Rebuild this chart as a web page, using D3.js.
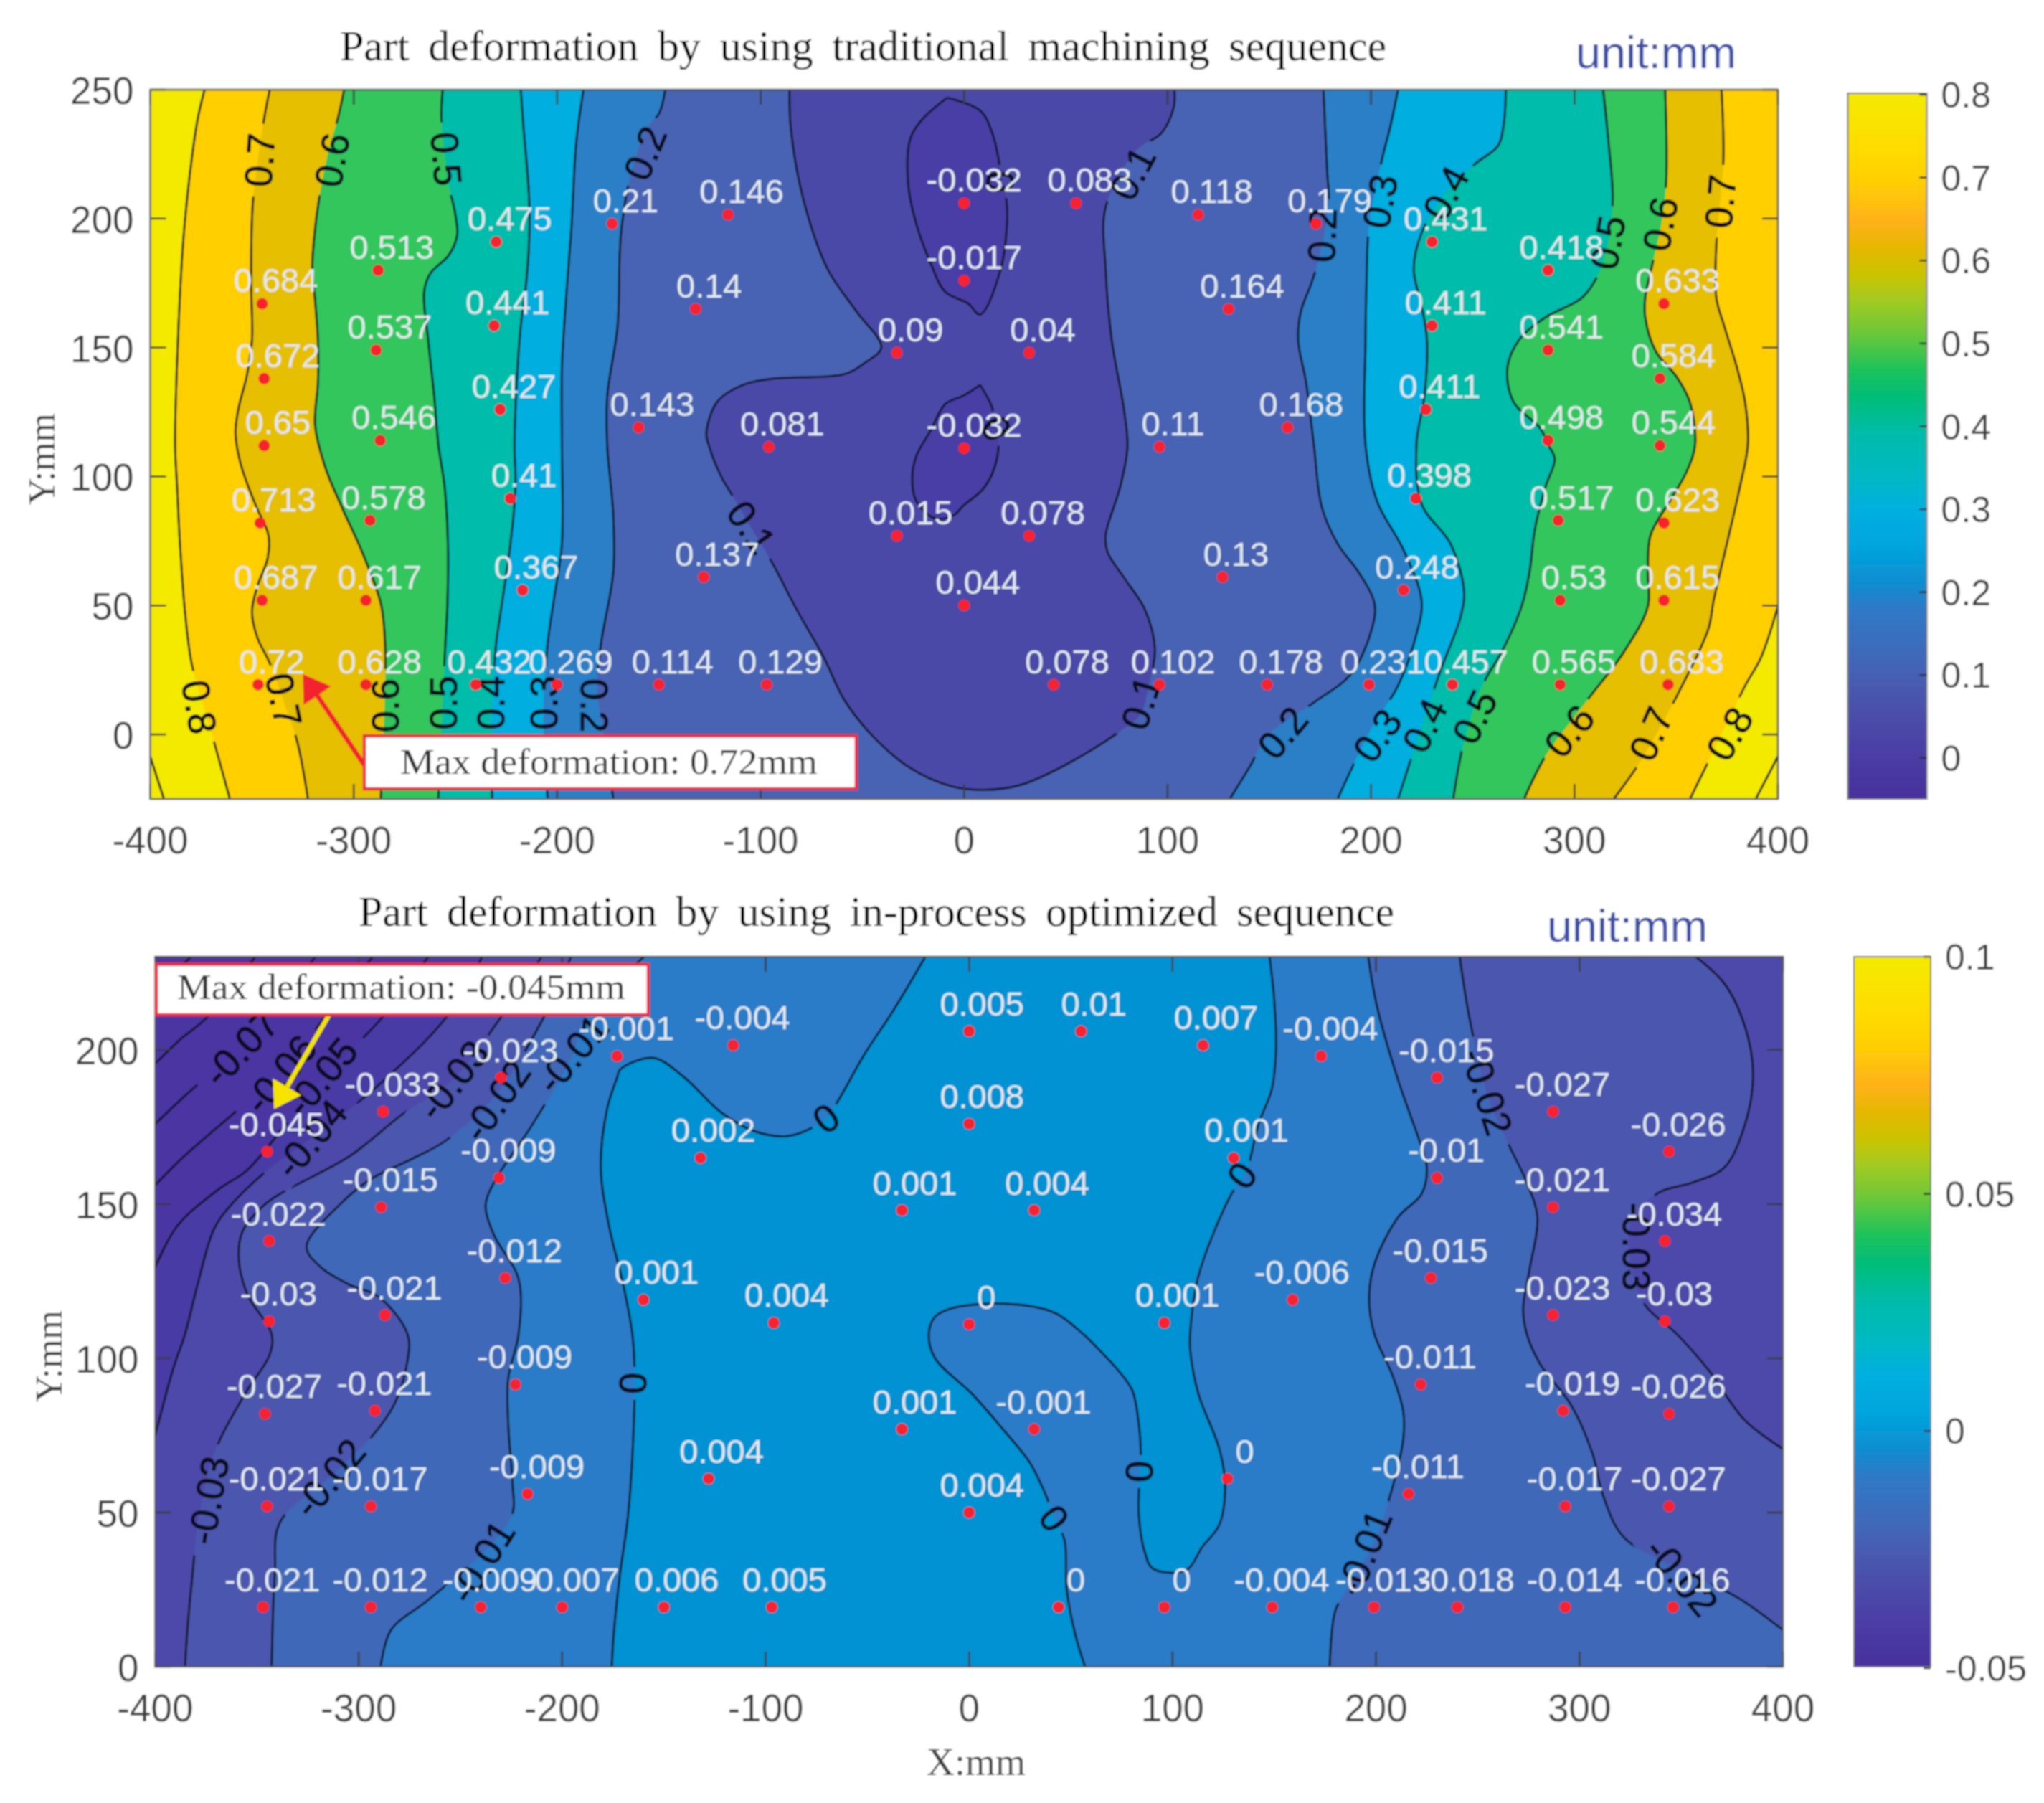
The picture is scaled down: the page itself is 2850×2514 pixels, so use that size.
<!DOCTYPE html>
<html><head><meta charset="utf-8"><style>html,body{margin:0;padding:0;background:#fff}svg{display:block}</style>
<script src="https://cdn.jsdelivr.net/npm/d3@7"></script></head><body><script>
// ---- measuring points (shared by both panels), mm
const pointX=[0,55,115,-116,-173,173,-230,230,-288,287,-345,344,0,-132,130,-231,230,-289,287,-33,32,-344,342,-228,227,-160,159,-344,-287,-96,0,96,287,342,-223,222,-346,-292,-33,32,292,344,-128,127,-217,216,0,-345,-294,293,344,-347,-294,-240,-200,-150,-97,44,96,149,199,240,293,346];
const pointY=[206,206,201.5,201.5,198,198,191,191,180,180,167,167,176,165,165,158.5,158.5,149,149,148,148,138,138,126,126,119,119,112,114,111.5,111,111.5,114,112,91.5,91.5,82,83,77,77,83,82,61,61,56,56,50,52,52,52,52,19.3,19.3,19.3,19.3,19.3,19.3,19.3,19.3,19.3,19.3,19.3,19.3,19.3];
const topValues=["-0.032","0.083","0.118","0.146","0.21","0.179","0.475","0.431","0.513","0.418","0.684","0.633","-0.017","0.14","0.164","0.441","0.411","0.537","0.541","0.09","0.04","0.672","0.584","0.427","0.411","0.143","0.168","0.65","0.546","0.081","-0.032","0.11","0.498","0.544","0.41","0.398","0.713","0.578","0.015","0.078","0.517","0.623","0.137","0.13","0.367","0.248","0.044","0.687","0.617","0.53","0.615","0.72","0.628","0.432","0.269","0.114","0.129","0.078","0.102","0.178","0.231","0.457","0.565","0.683"];
const botValues=["0.005","0.01","0.007","-0.004","-0.001","-0.004","-0.023","-0.015","-0.033","-0.027","-0.045","-0.026","0.008","0.002","0.001","-0.009","-0.01","-0.015","-0.021","0.001","0.004","-0.022","-0.034","-0.012","-0.015","0.001","-0.006","-0.03","-0.021","0.004","0","0.001","-0.023","-0.03","-0.009","-0.011","-0.027","-0.021","0.001","-0.001","-0.019","-0.026","0.004","0","-0.009","-0.011","0.004","-0.021","-0.017","-0.017","-0.027","-0.021","-0.012","-0.009","-0.007","0.006","0.005","0","0","-0.004","-0.013","-0.018","-0.014","-0.016"];

// ---- top panel contour lines, traced [x,y] in mm
const t08L=[[-373.3,250],[-376.7,238.6],[-380.3,218.8],[-383.8,191.3],[-386.4,152.9],[-387.8,112.4],[-386.8,95.9],[-385.4,73.9],[-382.8,46.4],[-379.7,27.7],[-374.7,13.4],[-368.6,-3],[-360.9,-25]];
const t07L=[[-341.3,250],[-344.3,237.5],[-349.6,205.6],[-350.4,174.8],[-350,152.9],[-352.4,139.7],[-356.9,125.4],[-358.1,116.6],[-355.5,104.7],[-348.4,89.3],[-341.9,77.2],[-342.3,68.4],[-347.4,57.4],[-350,47.5],[-347.4,37.6],[-341.3,27.7],[-334.2,12.4],[-327.7,-3],[-322.5,-25]];
const t06L=[[-304.7,250],[-307.9,238.6],[-312,227.6],[-317,207.8],[-319.6,191.3],[-320.4,180.3],[-319,168.3],[-317.6,152.9],[-317.6,136.4],[-319,119.9],[-314,103.6],[-305.9,88.2],[-295.8,70.6],[-286.7,50.8],[-284.6,35.4],[-284.6,18.9],[-286.7,-25]];
const t05L=[[-256.3,250],[-256.9,238.6],[-253.3,213.3],[-250.2,202.3],[-249.2,193.5],[-253.3,185.8],[-262.4,178.7],[-265.4,171.6],[-263.4,152.9],[-260.4,130.9],[-258.4,112.4],[-255.3,95.9],[-253.7,73.9],[-253.9,51.9],[-255.3,29.9],[-258.4,-25]];
const t04L=[[-217.9,250],[-216.9,238.6],[-213.8,207.8],[-213.8,191.3],[-215.3,174.8],[-217.9,158.4],[-219.9,136.4],[-221,112.4],[-220.5,95.9],[-223,73.9],[-228,46.4],[-230,35.4],[-232,7.9],[-232,-25]];
const t03L=[[-187.1,250],[-190.6,229.8],[-193,196.8],[-195.6,169.4],[-197.7,141.9],[-197.7,112.4],[-197.7,73.9],[-201.7,51.9],[-204.7,35.4],[-206.8,7.9],[-204.7,-25]];
const t02L=[[-146.9,250],[-149.9,240.8],[-156,235],[-164,216.6],[-168.3,196.8],[-169.3,185.8],[-170.3,158.4],[-175.4,130.9],[-175.4,112.4],[-172.4,84.9],[-172.4,62.9],[-178.4,35.4],[-180.5,18.9],[-176.4,-3],[-172.4,-25]];
const t09L=[[-400,-8.5],[-393.3,-25]];
const t01C=[[-85.8,250],[-85.2,235.3],[-79.1,207.8],[-67,180.3],[-52.8,163.9],[-40.7,150.1],[-48.8,144.1],[-58.9,139.7],[-93.3,138],[-109.5,135.3],[-121.6,128.7],[-126.7,116.6],[-125.6,112.4],[-119.6,100.3],[-113.5,92.1],[-107.4,83.8],[-93.3,65.1],[-83.2,49.7],[-69,29.9],[-58.9,13.4],[-44.7,-.8],[-26.5,-13],[-6.3,-20.1],[9.9,-21.5],[28.1,-19.5],[52.4,-10.7],[76.7,1.3],[86.8,7.9],[90.8,18.9],[93.8,33.2],[88.8,48.6],[78.7,60.7],[70.6,70.6],[69.6,77.2],[76.7,95.9],[80.3,111.3],[78.7,125.4],[72.6,152.9],[69.6,180.3],[69.6,204.5],[84.8,226.5],[96.9,233.1],[103,243],[103.4,250]];
const t00A=[[-8.3,246.9],[7.9,241.9],[13.9,233.1],[18,218.8],[21,205.6],[21,196.8],[18,180.3],[7.9,162.8],[1.8,167.2],[-9.3,171.6],[-16.4,182.6],[-23.5,197.9],[-27.5,213.3],[-26.5,230.9],[-20.4,238.6],[-8.3,246.9]];
const t00B=[[7.9,135.5],[13.9,126.5],[17,112.4],[14,101.4],[8.9,94.8],[-.2,88.8],[-5.3,84.9],[-14.4,83.8],[-23.5,90.4],[-25.5,99.2],[-23.5,108],[-16.4,117.9],[-9.3,128.1],[-.2,131.4],[7.9,135.5]];
const t02R=[[176.6,250],[178.4,218.8],[179.2,205.6],[174.5,184.7],[170.6,174.8],[165.5,163.9],[164.2,152.9],[168.1,136.4],[171.9,112.4],[175.8,88.2],[183.6,73.9],[193.9,62.9],[201.7,50.8],[200.4,40.9],[190,23.3],[171.9,12.4],[148.7,-.8],[140.9,-11.8],[130.6,-25]];
const t03R=[[213.3,250],[209.4,235.3],[205.5,223.2],[199,196.8],[197.8,174.8],[197.3,152.9],[197.3,112.4],[203,90.4],[215.9,71.7],[224.9,51.9],[222.3,38.7],[213.3,18.9],[200.4,2.5],[183.6,-25]];
const t04R=[[266.3,250],[265,235.3],[262.4,228.2],[250.8,221],[236.6,210],[224.9,194.6],[221,180.3],[224.9,166],[227.5,152.9],[226.2,130.9],[222.3,112.4],[224.9,89.3],[239.1,73.9],[245.6,56.3],[244.3,46.4],[234,24.4],[222.3,-3],[213.3,-25]];
const t05R=[[314.1,250],[316.7,229.8],[318.8,207.8],[316.7,191.3],[311.5,178.1],[303.8,169.4],[285.7,161.7],[272.7,152.9],[267,141.9],[270.2,128.7],[283.1,118.8],[287,112.4],[290.3,106.9],[285.7,95.9],[280.5,79.4],[277.9,62.9],[274,49.7],[265,33.2],[254.7,18.9],[245.6,-3],[240.4,-25]];
const t06R=[[344.6,250],[345.1,214.4],[342.5,196.8],[338.7,183.6],[334.8,169.4],[334.8,161.7],[340,148.5],[350.3,138.6],[356.8,128.7],[359.3,112.4],[355.5,102.5],[347.7,91.5],[337.4,77.2],[336.1,62.9],[336.1,49.7],[324.4,32.1],[306.4,13.4],[285.7,-8.5],[275.3,-25]];
const t07R=[[372.3,250],[373.2,223.2],[371,202.3],[369.7,189.1],[369.7,169.4],[373.6,158.4],[380,141.9],[383.9,128.7],[385.2,112.4],[381.3,95.9],[374.9,73.9],[368.4,51.9],[365.8,40.9],[352.9,18.9],[332.2,-10.7],[319.3,-25]];
const t08R=[[400,49.7],[391.7,29.9],[383.9,18.9],[368.4,-6.3],[356.8,-25]];
const t09R=[[400,-8.5],[389.1,-25]];
const topBandColors=["#4a3da6","#4b4aa8","#4a63b4","#2a7fc6","#03aedf","#03bcaa","#30c65d","#e6bf02","#ffcf00","#f3ea00"]; // <0, 0-.1, ... >.8
// label: text, x, y, rotation
const topLineLabels=[["0.7",-346.4,222.7,-86],["0.6",-310.9,222.7,-80],["0.5",-254.3,223.2,85],["0.2",-157,225.4,-68],
["0.8",-375.7,10.7,80],["0.7",-334.2,13.4,78],["0.6",-284.6,11.2,-90],["0.5",-256.3,12.3,-90],["0.4",-233,12.3,-90],["0.3",-206.8,12.3,-90],["0.2",-181.5,11.2,90],
["0.1",82.7,217.7,-62],["0",18,214.4,90],["0",16,118.8,60],["0.1",-104.4,80.5,55],["0.1",86.8,12.4,-73],
["0.2",175.8,193.5,-88],["0.3",204.2,206.7,-80],["0.4",236.6,210,-62],["0.5",316.2,190.8,-80],["0.6",342,197.9,-80],["0.7",371.5,206.7,-85],
["0.2",156.4,.8,-50],["0.3",203,-.3,-55],["0.4",226.2,3.6,-64],["0.5",250.8,6.9,-64],["0.6",297.3,1.4,-50],["0.7",337.4,.3,-66],["0.8",376.1,.3,-60]];

// ---- bottom panel contour lines
const b08=[[-400,218.7],[-381.2,231]];
const b07=[[-400,195.5],[-387.3,203.6],[-375.1,210.2],[-349.9,231]];
const b06=[[-400,176],[-382.2,187],[-371.1,193.1],[-358,200.7],[-344.8,209.7],[-320.5,231]];
const b05=[[-400,156.1],[-387.3,164.6],[-369.1,175.1],[-359,180.8],[-338.7,192.2],[-316.5,210.7],[-292.2,231]];
const b045=[[-400,129.5],[-389.3,142.8],[-369.1,154.7],[-355,160.9],[-335.7,176],[-318.5,190.3],[-303.3,200.2],[-288.2,210.7],[-264.9,231]];
const b04L=[[-400,74.9],[-391.3,96.3],[-385.3,107.9],[-379.2,123.8],[-371.1,141.9],[-363,149.5],[-346.8,159.9],[-323.6,171.3],[-304.3,180.8],[-284.1,192.2],[-256.8,210.7],[-238.6,231]];
const b03L=[[-385.3,0],[-384.3,10.9],[-381.2,33.2],[-379.2,45.8],[-373.1,65.2],[-368,73.9],[-354.9,89.5],[-343.8,101.1],[-342.8,107.9],[-354.9,121],[-359,133.3],[-356.9,141.4],[-346.8,149.5],[-338.7,153.3],[-304.3,165.6],[-279,178.9],[-253.8,190.3],[-230.5,210.2],[-209.3,231]];
const b02L=[[-342.8,0],[-341.2,30.3],[-338.7,46.8],[-314.5,61.3],[-293.2,74.9],[-282.1,85.6],[-276,99.2],[-276,107.9],[-290.2,120],[-304.3,123.8],[-318.5,129.5],[-325.6,136.2],[-308.4,150.4],[-294.2,158],[-274,164.6],[-257.8,170.3],[-233.5,184.6],[-209.3,210.2],[-195.1,231]];
const b01L=[[-289.2,0],[-284.1,11.9],[-265.9,21.6],[-235.6,39],[-224.4,49.7],[-224.4,59.4],[-226.5,78.8],[-226.5,93.4],[-221.4,107.9],[-221.4,125.7],[-233.5,140],[-237.6,149.5],[-233.5,157],[-215.3,175.1],[-195.1,197.9],[-189,210.2],[-158.4,231]];
const b00A=[[-20.8,231],[-37,213],[-51.2,198.8],[-64.3,183.6],[-70.4,177.9],[-78.5,174.3],[-89.6,172],[-105.8,173.7],[-122,179.8],[-140.2,191.2],[-155.4,197.4],[-171.5,193.6],[-172.9,191.2],[-177.9,180.8],[-181,161.8],[-176.9,142.8],[-170,124],[-165.5,107.9],[-164.5,98.7],[-164.5,84.6],[-167.5,49.7],[-171.5,30.3],[-174.6,10.9],[-175.6,0]];
const b00B=[[147.5,231],[150,215.9],[150.8,199.8],[148.8,187.4],[142.3,176],[135.8,159.9],[128.9,153.3],[112.7,126.7],[108.6,107.9],[108.6,103],[112.7,88.5],[122.8,71],[125.8,59.4],[122.8,45.8],[114.7,39],[106.6,31.3],[90.4,31.8],[86.4,37.1],[83.4,49.7],[84,63.3],[84.4,70],[83.4,78.8],[80.3,89.5],[74.3,95.3],[62.1,104],[56,107.9],[41.9,114.8],[17.6,117.7],[-8.7,116.2],[-16.8,113.4],[-19.8,107.9],[-16.8,100.1],[1.4,88.5],[15.6,77.8],[29.8,66.2],[37.8,55.5],[41.9,48.2],[46.9,41],[47.9,25.4],[52,10.9],[57,0]];
const b01R=[[196,231],[200.5,214],[210.8,190.3],[222.4,168.4],[225,161.8],[222.4,153.3],[210.8,145.7],[199.2,130.5],[196.6,119.1],[199.2,107.9],[208.2,94.3],[213.4,82.7],[213.4,73.9],[208.2,58.4],[198.9,40],[185,24.5],[179.8,17.7],[177.2,0]];
const b02R=[[241,231],[245.7,211.1],[254.7,185.5],[265.1,169.4],[274.1,157],[279.3,145.7],[275.4,128.6],[272.3,116.2],[274.1,107.9],[280.6,98.2],[296.1,84.6],[306.4,69.1],[311.6,55.5],[321.9,41.9],[350.4,31.3],[377.5,22.5],[400,11.9]];
const b03R=[[355.6,231],[371.1,221.6],[381.4,207.4],[385.3,192.2],[381.4,176],[371.1,161.8],[355.6,157],[338.8,153.7],[325.8,144.7],[325.8,128.6],[332.3,117.2],[347.8,107.9],[363.3,96.3],[381.4,79.8],[400,70.6]];
const botBandColors=["#4b36a3","#4a3aa6","#4d48aa","#4b57ae","#4168b9","#2c7cc8","#0492d2"];
const botLineLabels=[["-0.07",-358,200.7,-46],["-0.06",-338.7,192.2,-50],["-0.05",-318.5,191.2,-50],["-0.04",-323.6,171.3,-50],["-0.03",-253.8,190.3,-52],["-0.02",-232.5,183.6,-55],["-0.01",-195.1,198.8,-50],
["0",-164.9,91.9,90],["-0.03",-374.1,54,-80],["-0.02",-314.5,61.3,-50],["-0.01",-239.6,34.2,-58],
["0",-70.4,177.9,-37],["0",133.9,159.4,-55],["0",41.9,48.2,54],["0",84,63.3,90],
["-0.02",254.7,186.5,72],["-0.03",328.4,136.2,90],["-0.01",194,37.1,-68],["-0.02",350.4,29.3,50]];

// ---- ticks and colour bars
const xTicks=[-400,-300,-200,-100,0,100,200,300,400];
const topYTicks=[0,50,100,150,200,250];
const botYTicks=[0,50,100,150,200];
const topBarTicks=[0,.1,.2,.3,.4,.5,.6,.7,.8];
const botBarTicks=[-.05,0,.05,.1];
const barStops=[[0,"#48309c"],[.06,"#4b3da5"],[.1,"#4c48a8"],[.15,"#4a57ad"],[.2,"#4168b9"],[.27,"#2e7ac7"],[.31,"#0c8fd2"],[.36,"#00a6de"],[.41,"#00afe0"],[.45,"#00b8c8"],[.52,"#00bca8"],[.57,"#00bd78"],[.61,"#1fc35a"],[.66,"#6cc83a"],[.71,"#a6ca20"],[.74,"#c7c503"],[.78,"#e5b800"],[.82,"#ffb21a"],[.87,"#ffcd05"],[.92,"#ffdc00"],[1,"#f4ea00"]];
const SANS="'Liberation Sans',Arial,sans-serif", SERIF="'Liberation Serif','Times New Roman',serif";

const svg=d3.select("body").append("svg").attr("width",2850).attr("height",2514);
const defs=svg.append("defs");
defs.append("filter").attr("id","soft").attr("x",0).attr("y",0).attr("width",1).attr("height",1)
  .attr("filterUnits","objectBoundingBox").append("feGaussianBlur").attr("stdDeviation",0.9);
const grad=defs.append("linearGradient").attr("id","bar").attr("x1",0).attr("y1",1).attr("x2",0).attr("y2",0);
barStops.forEach(s=>grad.append("stop").attr("offset",s[0]).attr("stop-color",s[1]));
const root=svg.append("g").attr("filter","url(#soft)");
root.append("rect").attr("width",2850).attr("height",2514).attr("fill","#fff");

function panel(o){
  const x=d3.scaleLinear().domain([-400,400]).range(o.xr), y=d3.scaleLinear().domain(o.yd).range(o.yr);
  const curve=d3.line().x(d=>x(d[0])).y(d=>y(d[1])).curve(d3.curveCatmullRom.alpha(.5));
  const corner=c=>c.map(p=>`L${x(p[0])},${y(p[1])}`).join("");
  const g=root.append("g");
  const cid="clip"+o.id, mid="mask"+o.id;
  defs.append("clipPath").attr("id",cid).append("rect").attr("x",o.xr[0]).attr("y",o.yr[1]).attr("width",o.xr[1]-o.xr[0]).attr("height",o.yr[0]-o.yr[1]);
  const m=defs.append("mask").attr("id",mid).attr("maskUnits","userSpaceOnUse").attr("x",0).attr("y",0).attr("width",2850).attr("height",2514);
  m.append("rect").attr("width",2850).attr("height",2514).attr("fill","#fff");
  const plot=g.append("g").attr("clip-path",`url(#${cid})`);
  plot.append("rect").attr("x",o.xr[0]).attr("y",o.yr[1]).attr("width",o.xr[1]-o.xr[0]).attr("height",o.yr[0]-o.yr[1]).attr("fill",o.base);
  o.fills.forEach(f=>plot.append("path").attr("d",f.path(curve,corner)+"Z").attr("fill",f.color));
  const lines=plot.append("g").attr("mask",`url(#${mid})`).attr("fill","none").attr("stroke","#0f1228").attr("stroke-width",3);
  o.lines.forEach(l=>lines.append("path").attr("d",curve(l)));
  o.labels.forEach(l=>{
    const w=l[0].length*28+18;
    m.append("rect").attr("x",-w/2).attr("y",-24).attr("width",w).attr("height",48).attr("fill","#000")
      .attr("transform",`translate(${x(l[1])},${y(l[2])}) rotate(${l[3]})`);
    g.append("text").text(l[0]).attr("text-anchor","middle").attr("dy","0.36em").attr("font-family",SANS).attr("font-size",o.lineFont).attr("fill","#090b1c").attr("stroke","#090b1c").attr("stroke-width",1)
      .attr("transform",`translate(${x(l[1])},${y(l[2])}) rotate(${l[3]})`);
  });
  // ticks
  const tk=g.append("g").attr("stroke","#3a3a3a").attr("stroke-width",2.5);
  xTicks.forEach(v=>{tk.append("line").attr("x1",x(v)).attr("x2",x(v)).attr("y1",o.yr[1]).attr("y2",o.yr[1]+21);
    tk.append("line").attr("x1",x(v)).attr("x2",x(v)).attr("y1",o.yr[0]).attr("y2",o.yr[0]-21);});
  o.yTicks.forEach(v=>{tk.append("line").attr("x1",o.xr[0]).attr("x2",o.xr[0]+22).attr("y1",y(v)).attr("y2",y(v));
    tk.append("line").attr("x1",o.xr[1]).attr("x2",o.xr[1]-22).attr("y1",y(v)).attr("y2",y(v));});
  g.append("rect").attr("x",o.xr[0]).attr("y",o.yr[1]).attr("width",o.xr[1]-o.xr[0]).attr("height",o.yr[0]-o.yr[1]).attr("fill","none").attr("stroke","#555").attr("stroke-width",2.5);
  const gray="#3f3f3f";
  xTicks.forEach(v=>g.append("text").text(v).attr("x",x(v)).attr("y",o.xTickY).attr("text-anchor","middle").attr("font-family",SANS).attr("font-size",53).attr("fill",gray));
  o.yTicks.forEach(v=>g.append("text").text(v).attr("x",o.xr[0]-23).attr("y",y(v)+20).attr("text-anchor","end").attr("font-family",SANS).attr("font-size",53).attr("fill",gray));
  // points + value labels
  o.values.forEach((t,i)=>{
    const px=x(pointX[i]),py=y(pointY[i]);
    g.append("text").text(t).attr("x",px+o.dx(t)).attr("y",py+o.dy).attr("text-anchor","middle").attr("font-family",SANS).attr("font-size",47).attr("fill","#e2e9ee");
    g.append("circle").attr("cx",px).attr("cy",py).attr("r",8).attr("fill","#f8202e");
  });
  // annotation arrow and box
  const a=o.arrow, ax=x(a.tail[0]),ay=y(a.tail[1]),bx=x(a.tip[0]),by=y(a.tip[1]);
  const ang=Math.atan2(by-ay,bx-ax), L=36, W=23;
  const nx=bx-Math.cos(ang)*L, ny=by-Math.sin(ang)*L;
  g.append("line").attr("x1",ax).attr("y1",ay).attr("x2",nx).attr("y2",ny).attr("stroke",a.color).attr("stroke-width",6.5);
  g.append("polygon").attr("fill",a.color).attr("points",`${bx},${by} ${nx-Math.sin(ang)*W},${ny+Math.cos(ang)*W} ${nx+Math.sin(ang)*W},${ny-Math.cos(ang)*W}`);
  g.append("rect").attr("x",o.box[0]).attr("y",o.box[1]).attr("width",o.box[2]).attr("height",o.box[3]).attr("fill","#fff").attr("stroke","#ee2f42").attr("stroke-width",4.5);
  g.append("text").text(o.boxText).attr("x",o.boxTextX).attr("y",o.boxTextY).attr("textLength",o.boxTextW).attr("lengthAdjust","spacingAndGlyphs").attr("font-family",SERIF).attr("font-size",50).attr("fill","#333");
  // titles
  g.append("text").text(o.title).attr("x",o.titleX).attr("y",o.titleY).attr("font-family",SERIF).attr("font-size",60).attr("fill","#050505").attr("word-spacing",o.ws);
  g.append("text").text("unit:mm").attr("x",o.unitX).attr("y",o.unitY).attr("font-family",SANS).attr("font-size",63).attr("fill","#3c50a6");
  g.append("text").text("Y:mm").attr("transform",`translate(${o.ylX},${o.ylY}) rotate(-90)`).attr("text-anchor","middle").attr("font-family",SERIF).attr("font-size",52).attr("fill",gray);
  // colour bar
  const c=d3.scaleLinear().domain(o.barD).range(o.barR);
  g.append("rect").attr("x",o.barX[0]).attr("y",o.barY[0]).attr("width",o.barX[1]-o.barX[0]).attr("height",o.barY[1]-o.barY[0]).attr("fill","url(#bar)").attr("stroke","#777").attr("stroke-width",2);
  o.barTicks.forEach(v=>{
    g.append("line").attr("x1",o.barX[1]).attr("x2",o.barX[1]-10).attr("y1",c(v)).attr("y2",c(v)).attr("stroke","#333").attr("stroke-width",2.5);
    g.append("text").text(String(v)).attr("x",o.barX[1]+20).attr("y",c(v)+18).attr("font-family",SANS).attr("font-size",50).attr("fill",gray);
  });
}
const leftOf=(l,yTop,yBot)=>(c,k)=>c(l)+k([[-400,yBot],[-400,yTop]]);
const rightOf=(l,yTop,yBot)=>(c,k)=>c(l)+k([[400,yBot],[400,yTop]]);
const closed=l=>(c,k)=>c(l);

panel({id:"T",xr:[209.5,2479],yd:[-25,250],yr:[1114,125],base:topBandColors[2],
  fills:[
    {path:closed(t01C),color:topBandColors[1]},{path:closed(t00A),color:topBandColors[0]},{path:closed(t00B),color:topBandColors[0]},
    ...[t02L,t03L,t04L,t05L,t06L,t07L,t08L].map((l,i)=>({path:leftOf(l,250,-25),color:topBandColors[3+i]})),
    ...[t02R,t03R,t04R,t05R,t06R,t07R].map((l,i)=>({path:rightOf(l,250,-25),color:topBandColors[3+i]})),
    {path:(c,k)=>c(t08R)+k([[400,-25]]),color:topBandColors[9]}
  ],
  lines:[t09L,t08L,t07L,t06L,t05L,t04L,t03L,t02L,t01C,t00A,t00B,t02R,t03R,t04R,t05R,t06R,t07R,t08R,t09R],
  labels:topLineLabels,lineFont:54,yTicks:topYTicks,xTickY:1190,values:topValues,
  dx:t=>t[0]=="-"?14:19,dy:-16,
  arrow:{tail:[-294.7,-12],tip:[-325,23.4],color:"#f2222e"},
  box:[508,1026,686,74],boxText:"Max deformation: 0.72mm",boxTextX:558,boxTextY:1079,boxTextW:582,
  title:"Part deformation by using traditional machining sequence",titleX:474,titleY:84,ws:11.6,
  unitX:2197,unitY:95,ylX:76,ylY:640,
  barX:[2576.5,2686.5],barY:[130,1114],barD:[0,.8],barR:[1057,132],barTicks:topBarTicks});

panel({id:"B",xr:[216.4,2486],yd:[0,230.2],yr:[2324,1334],base:botBandColors[5],
  fills:[
    {path:(c,k)=>c(b00A)+k([[57,0]])+c(b00B.slice().reverse()).replace("M","L"),color:botBandColors[6]},
    {path:(c,k)=>c(b01L)+k([[-400,231],[-400,0]]),color:botBandColors[4]},
    {path:(c,k)=>c(b02L)+k([[-400,231],[-400,0]]),color:botBandColors[3]},
    {path:(c,k)=>c(b03L)+k([[-400,231],[-400,0]]),color:botBandColors[2]},
    {path:(c,k)=>c(b04L)+k([[-400,231]]),color:botBandColors[1]},
    {path:(c,k)=>c(b045)+k([[-400,231]]),color:botBandColors[0]},
    {path:(c,k)=>c(b01R)+k([[400,0],[400,231]]),color:botBandColors[4]},
    {path:(c,k)=>c(b02R)+k([[400,231]]),color:botBandColors[3]},
    {path:(c,k)=>c(b03R)+k([[400,231]]),color:botBandColors[2]}
  ],
  lines:[b08,b07,b06,b05,b045,b04L,b03L,b02L,b01L,b00A,b00B,b01R,b02R,b03R],
  labels:botLineLabels,lineFont:54,yTicks:botYTicks,xTickY:2400,values:botValues,
  dx:t=>t=="0"?24:(t[0]=="-"?13:18),dy:-22,
  arrow:{tail:[-314.5,211.4],tip:[-341.6,180.8],color:"#f6e400"},
  box:[218,1344.5,686,70.5],boxText:"Max deformation: -0.045mm",boxTextX:247,boxTextY:1393,boxTextW:625,
  title:"Part deformation by using in-process optimized sequence",titleX:500,titleY:1291,ws:11.3,
  unitX:2157,unitY:1313,ylX:86,ylY:1891,
  barX:[2585,2692],barY:[1334,2324],barD:[-.05,.1],barR:[2326,1334],barTicks:botBarTicks});

root.append("text").text("X:mm").attr("x",1361).attr("y",2475).attr("text-anchor","middle").attr("font-family",SERIF).attr("font-size",54).attr("fill","#3f3f3f");
</script></body></html>
